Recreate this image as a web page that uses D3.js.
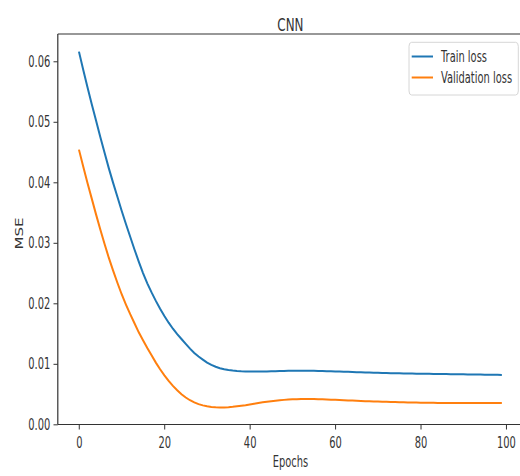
<!DOCTYPE html>
<html>
<head>
<meta charset="utf-8">
<script src="https://cdn.jsdelivr.net/npm/d3@7"></script>
<style>
  body { margin: 0; background: #fff; }
  svg { display: block; font-family: "DejaVu Sans", sans-serif; }
</style>
</head>
<body>
<div id="chart"></div>
<script>
const trainLoss = [
  0.0616, 0.0586, 0.0557, 0.0529, 0.0502, 0.0475, 0.0449, 0.0423, 0.0399, 0.0376,
  0.0353, 0.0331, 0.0310, 0.0289, 0.0269, 0.0250, 0.0233, 0.0218, 0.0204, 0.0191,
  0.0179, 0.0168, 0.0158, 0.0149, 0.0141, 0.0133, 0.0125, 0.0118, 0.0112, 0.0107,
  0.01020, 0.00982, 0.00951, 0.00927, 0.00910, 0.00897, 0.00888, 0.00881, 0.00876, 0.00873,
  0.00871, 0.00871, 0.00872, 0.00873, 0.00875, 0.00877, 0.00879, 0.00881, 0.00883, 0.00884,
  0.00885, 0.00886, 0.00886, 0.00886, 0.00885, 0.00884, 0.00882, 0.00880, 0.00878, 0.00876,
  0.00874, 0.00872, 0.00869, 0.00867, 0.00864, 0.00862, 0.00859, 0.00857, 0.00855, 0.00853,
  0.00851, 0.00849, 0.00847, 0.00845, 0.00844, 0.00842, 0.00841, 0.00839, 0.00838, 0.00837,
  0.00836, 0.00835, 0.00834, 0.00833, 0.00832, 0.00831, 0.00830, 0.00829, 0.00828, 0.00827,
  0.00826, 0.00825, 0.00824, 0.00823, 0.00822, 0.00821, 0.00820, 0.00819, 0.00818, 0.00817
];
const valLoss = [
  0.0454, 0.0426, 0.0399, 0.0373, 0.0347, 0.0322, 0.0298, 0.0275, 0.0254, 0.0234,
  0.0215, 0.0198, 0.0182, 0.0167, 0.0152, 0.0139, 0.0126, 0.0114, 0.0102, 0.0091,
  0.00810, 0.00718, 0.00635, 0.00562, 0.00498, 0.00443, 0.00398, 0.00362, 0.00334, 0.00313,
  0.00298, 0.00288, 0.00282, 0.00279, 0.00279, 0.00283, 0.00289, 0.00297, 0.00306, 0.00316,
  0.00328, 0.00340, 0.00352, 0.00363, 0.00374, 0.00383, 0.00391, 0.00398, 0.00404, 0.00409,
  0.00413, 0.00416, 0.00418, 0.00419, 0.00419, 0.00418, 0.00416, 0.00413, 0.00410, 0.00407,
  0.00404, 0.00401, 0.00398, 0.00395, 0.00392, 0.00389, 0.00386, 0.00383, 0.00380, 0.00378,
  0.00376, 0.00374, 0.00372, 0.00370, 0.00368, 0.00366, 0.00364, 0.00362, 0.00360, 0.00359,
  0.00358, 0.00357, 0.00356, 0.00355, 0.00354, 0.00353, 0.00352, 0.00352, 0.00351, 0.00351,
  0.00351, 0.00351, 0.00351, 0.00351, 0.00352, 0.00352, 0.00353, 0.00353, 0.00354, 0.00354
];
const seriesNames = ["Train loss", "Validation loss"];
const xTicks = [0, 20, 40, 60, 80, 100];
const yTicks = [0, 0.01, 0.02, 0.03, 0.04, 0.05, 0.06];
const title = "CNN";
const xLabel = "Epochs";
const yLabel = "MSE";

// the reference is squeezed sideways, so draw wide and squash with the viewBox
const squeeze = 0.66;
const W = 520 / squeeze, H = 476;
const colors = ["#1f77b4", "#ff7f0e"];
const plotLeft = 57.8 / squeeze, plotRight = 523 / squeeze, plotTop = 34, plotBottom = 424.5;

const svg = d3.select("#chart")
  .append("svg")
  .attr("width", 520)
  .attr("height", H)
  .attr("viewBox", `0 0 ${W} ${H}`)
  .attr("preserveAspectRatio", "none");

svg.append("rect").attr("width", W).attr("height", H).attr("fill", "#fff");

const x = d3.scaleLinear().domain([-4.95, 103.95]).range([plotLeft, plotRight]);
const y = d3.scaleLinear().domain([-0.00003, 0.06451]).range([plotBottom, plotTop]);

const xAxis = svg.append("g")
  .attr("transform", `translate(0,${plotBottom})`)
  .call(d3.axisBottom(x).tickValues(xTicks).tickSize(5).tickPadding(7.5).tickFormat(d3.format("d")));
const yAxis = svg.append("g")
  .attr("transform", `translate(${plotLeft},0)`)
  .call(d3.axisLeft(y).tickValues(yTicks).tickSize(6.5).tickPadding(5).tickFormat(d3.format(".2f")));

[xAxis, yAxis].forEach(g => {
  g.select(".domain").remove();
  g.selectAll("line").attr("stroke", "#333").attr("stroke-width", 1).attr("vector-effect", "non-scaling-stroke");
  g.selectAll("text").attr("fill", "#333").style("font-size", "15px").style("font-family", "DejaVu Sans");
});

// spines
const spines = [
  [plotLeft, plotTop, plotRight, plotTop], [plotLeft, plotBottom, plotRight, plotBottom],
  [plotLeft, plotTop, plotLeft, plotBottom], [plotRight, plotTop, plotRight, plotBottom]
];
svg.selectAll(".spine").data(spines).enter()
  .append("line")
  .attr("x1", d => d[0]).attr("y1", d => d[1])
  .attr("x2", d => d[2]).attr("y2", d => d[3])
  .attr("stroke", "#333").attr("stroke-width", 1.2)
  .attr("vector-effect", "non-scaling-stroke");

const line = d3.line().x((d, i) => x(i)).y(d => y(d));
[trainLoss, valLoss].forEach((s, i) => {
  svg.append("path")
    .datum(s)
    .attr("d", line)
    .attr("fill", "none")
    .attr("stroke", colors[i])
    .attr("stroke-width", 2)
    .attr("vector-effect", "non-scaling-stroke");
});

svg.append("text")
  .attr("x", (plotLeft + plotRight) / 2).attr("y", 31)
  .attr("text-anchor", "middle")
  .attr("fill", "#333").style("font-size", "18px")
  .text(title);

svg.append("text")
  .attr("x", (plotLeft + plotRight) / 2).attr("y", 467)
  .attr("text-anchor", "middle")
  .attr("fill", "#333").style("font-size", "15px")
  .text(xLabel);

svg.append("text")
  .attr("transform", `translate(${22.5 / squeeze},233.5) rotate(-90)`)
  .attr("text-anchor", "middle")
  .attr("fill", "#333").style("font-size", "15px")
  .text(yLabel);

// legend
const lx = 409 / squeeze, ly = 42.3, lw = (518.3 - 409) / squeeze, lh = 52.7;
const legend = svg.append("g");
legend.append("rect")
  .attr("x", lx).attr("y", ly).attr("width", lw).attr("height", lh)
  .attr("rx", 4).attr("ry", 4)
  .attr("fill", "#fff").attr("fill-opacity", 0.8)
  .attr("stroke", "#d6d6d6").attr("stroke-width", 1)
  .attr("vector-effect", "non-scaling-stroke");

const rows = legend.selectAll(".row").data(seriesNames).enter()
  .append("g")
  .attr("transform", (d, i) => `translate(0,${56.5 + i * 21})`);
rows.append("line")
  .attr("x1", 411.7 / squeeze).attr("x2", 433 / squeeze)
  .attr("stroke", (d, i) => colors[i]).attr("stroke-width", 2)
  .attr("vector-effect", "non-scaling-stroke");
rows.append("text")
  .attr("x", 441 / squeeze).attr("dy", "0.36em")
  .attr("fill", "#333").style("font-size", "15px")
  .text(d => d);
</script>
</body>
</html>
